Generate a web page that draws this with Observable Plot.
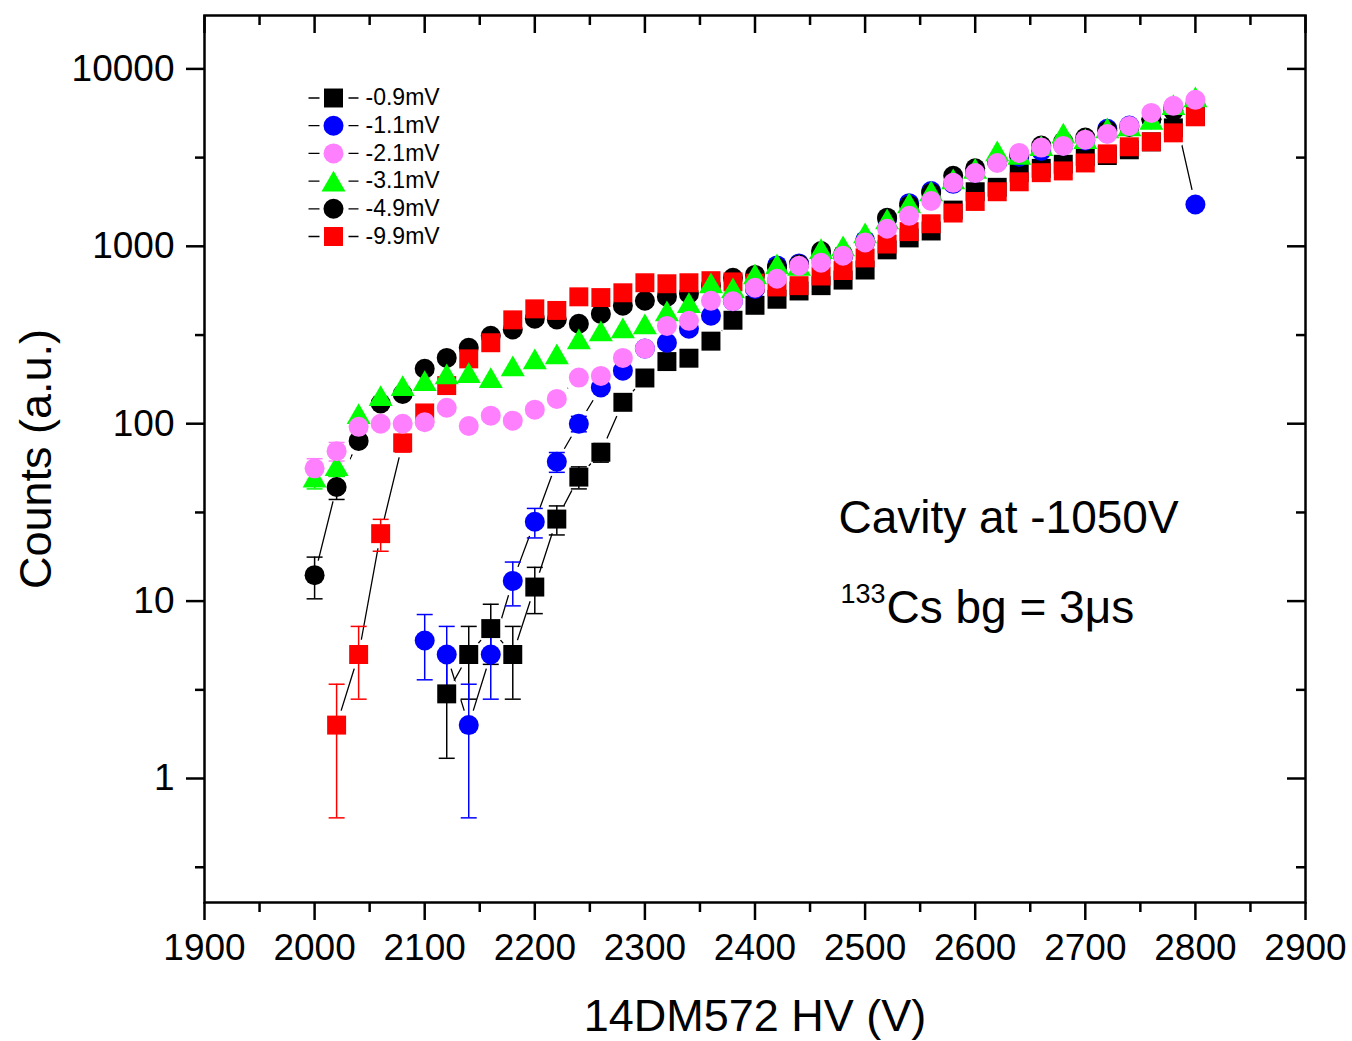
<!DOCTYPE html>
<html><head><meta charset="utf-8">
<script src="https://cdn.jsdelivr.net/npm/d3@7"></script>
<script src="https://cdn.jsdelivr.net/npm/@observablehq/plot@0.6"></script>
<style>body{margin:0;background:#fff;} svg{display:block}</style>
</head><body><div id="chart"></div>
<script>
// ---------------- data ----------------
const hv = [2000,2020,2040,2060,2080,2100,2120,2140,2160,2180,2200,2220,2240,2260,2280,2300,2320,2340,2360,2380,
            2400,2420,2440,2460,2480,2500,2520,2540,2560,2580,2600,2620,2640,2660,2680,2700,2720,2740,2760,2780,2800];

const seriesNames = ["-0.9mV","-1.1mV","-2.1mV","-3.1mV","-4.9mV","-9.9mV"];

const counts09 = [null,null,null,null,null,null,3,5,7,5,12,29,50,69,132,181,224,234,292,383,
                  465,503,560,600,645,735,955,1115,1220,1600,2030,2150,2600,2750,2900,3200,3250,3500,3880,4650,5400];
const counts11 = [null,null,null,null,null,6,5,2,5,13,28,61,100,160,199,265,286,343,406,490,
                  575,780,800,870,880,1080,1430,1750,2050,2250,2600,3000,3200,3450,3700,3950,4600,4800,5200,6050,1720];
const counts21 = [56,70,96,100,100,102,123,97,111,104,120,138,182,186,235,265,356,380,493,490,
                  584,656,777,808,885,1050,1255,1485,1800,2280,2590,2950,3360,3600,3680,3990,4300,4770,5650,6190,6690];
const counts31 = [50,58,114,144,164,175,191,194,182,212,232,248,301,334,347,366,433,481,623,584,
                  700,796,780,970,1007,1190,1430,1760,2055,2400,2750,3450,3300,3700,4350,4050,4650,4770,5200,6300,6950];
const counts49 = [14,44,80,130,147,204,235,268,313,340,391,387,366,416,462,493,520,540,600,664,
                  690,760,790,940,900,1050,1450,1700,2000,2500,2750,3000,3300,3700,3900,4100,4500,4700,5200,5800,6300];
const counts99 = [null,2,5,24,78,115,164,232,286,385,444,435,519,514,547,623,615,623,640,630,
                  620,590,600,680,730,860,1030,1210,1340,1540,1790,2030,2310,2600,2660,2950,3320,3640,3880,4360,5370];

// error bars (visible ones only)
const err09 = [null,null,null,null,null,null,1.7,2.2,2.6,2.2,3.5,5.4,7.1,8.3];
const err11 = [null,null,null,null,null,2.4,2.2,1.4,2.2,3.6,5.3,7.8,10];
const err21 = [7.5,8.4];
const err31 = [7.1,7.6];
const err49 = [3.7,6.6];
const err99 = [null,1.4,2.2,4.9,8.8];

const xTicks = [1900,2000,2100,2200,2300,2400,2500,2600,2700,2800,2900];
const xMinorTicks = [1950,2050,2150,2250,2350,2450,2550,2650,2750,2850];
const yTicks = [1,10,100,1000,10000];
const yMinorTicks = [0.316,3.16,31.6,316,3162];

const xLabel = "14DM572 HV (V)";
const yLabel = "Counts (a.u.)";
const note1 = "Cavity at -1050V";
const note2sup = "133";
const note2 = "Cs bg = 3\u03BCs";

// ---------------- styles ----------------
const seriesValues = [counts09, counts11, counts21, counts31, counts49, counts99];
const seriesErrors = [err09, err11, err21, err31, err49, err99];
const seriesSymbols = ["square","circle","circle","triangle","circle","square"];
const seriesColors = ["#000000","#0000FF","#FF80FF","#00FF00","#000000","#FF0000"];
const drawOrder = [0,1,4,5,3,2];

const W = 1352, H = 1041, mL = 204, mR = 47, mT = 15, mB = 139;
const plotW = W - mL - mR, plotH = H - mT - mB;

function symR(sym){ return sym === "square" ? 10.7 : sym === "triangle" ? 8.9 : 10; }
function symDy(sym){ return sym === "triangle" ? 3.5 : 0; }

const capSymbol = {draw(ctx){ ctx.moveTo(-8,0); ctx.lineTo(8,0); }};
const legendLineSymbol = {draw(ctx){ ctx.moveTo(-25,0); ctx.lineTo(-14,0); ctx.moveTo(15,0); ctx.lineTo(25,0); }};

const rowsBySeries = seriesValues.map((vals, s) =>
  hv.map((x, i) => ({x, y: vals[i], e: seriesErrors[s][i] ?? null, s})).filter(d => d.y != null));
const allRows = rowsBySeries.flat();

const marks = [];
// connecting lines
for (const s of drawOrder) {
  marks.push(Plot.line(rowsBySeries[s], {x: "x", y: "y", stroke: "black", strokeWidth: 1.3}));
}
// white gaps around symbols (Origin "line with gap")
marks.push(Plot.dot(allRows, {x: "x", y: "y", r: 15, fill: "white", stroke: null}));
// error bars
for (const s of drawOrder) {
  const er = rowsBySeries[s].filter(d => d.e != null);
  if (!er.length) continue;
  const c = seriesColors[s];
  marks.push(Plot.ruleX(er, {x: "x", y1: d => d.y - d.e, y2: d => d.y + d.e, stroke: c, strokeWidth: 1.5}));
  marks.push(Plot.dot(er, {x: "x", y: d => d.y + d.e, symbol: capSymbol, r: 5, fill: "none", stroke: c, strokeWidth: 1.5}));
  marks.push(Plot.dot(er, {x: "x", y: d => d.y - d.e, symbol: capSymbol, r: 5, fill: "none", stroke: c, strokeWidth: 1.5}));
}
// symbols
for (const s of drawOrder) {
  const sym = seriesSymbols[s];
  marks.push(Plot.dot(rowsBySeries[s], {x: "x", y: "y", symbol: sym, r: symR(sym), dy: symDy(sym),
    fill: seriesColors[s], stroke: null}));
}
// legend
seriesNames.forEach((name, i) => {
  const dy = 97.5 + 27.7 * i - mT;
  const sym = seriesSymbols[i];
  marks.push(Plot.dot([name], {frameAnchor: "top-left", dx: 333 - mL, dy, symbol: legendLineSymbol, r: 5,
    fill: "none", stroke: "black", strokeWidth: 1.3}));
  marks.push(Plot.dot([name], {frameAnchor: "top-left", dx: 333 - mL, dy: dy + symDy(sym), symbol: sym,
    r: symR(sym), fill: seriesColors[i], stroke: null}));
  marks.push(Plot.text([name], {frameAnchor: "top-left", dx: 365 - mL, dy, text: d => d, textAnchor: "start",
    lineAnchor: "middle", fontSize: 23, fill: "black"}));
});
// annotations
marks.push(Plot.text([note1], {frameAnchor: "top-left", dx: 838 - mL, dy: 518 - mT, text: d => d,
  textAnchor: "start", lineAnchor: "middle", fontSize: 46, fill: "black"}));
marks.push(Plot.text([note2sup], {frameAnchor: "top-left", dx: 840 - mL, dy: 594 - mT, text: d => d,
  textAnchor: "start", lineAnchor: "middle", fontSize: 27, fill: "black"}));
marks.push(Plot.text([note2], {frameAnchor: "top-left", dx: 886 - mL, dy: 608 - mT, text: d => d,
  textAnchor: "start", lineAnchor: "middle", fontSize: 46, fill: "black"}));
// axes
marks.push(Plot.axisX({ticks: xTicks, anchor: "bottom", tickSize: 18, tickPadding: 13, fontSize: 37,
  strokeWidth: 2.5, tickFormat: d => String(d), label: null}));
marks.push(Plot.axisX({ticks: xMinorTicks, anchor: "bottom", tickSize: 10, strokeWidth: 2.5,
  tickFormat: () => "", label: null}));
marks.push(Plot.axisY({ticks: yTicks, anchor: "left", tickSize: 18, tickPadding: 12, fontSize: 37,
  strokeWidth: 2.5, tickFormat: d => String(d), label: null}));
marks.push(Plot.axisY({ticks: yMinorTicks, anchor: "left", tickSize: 9, strokeWidth: 2.5,
  tickFormat: () => "", label: null}));
// mirror ticks (inward) on top and right
marks.push(Plot.tickX(xTicks, {x: d => d, insetBottom: plotH - 18, stroke: "black", strokeWidth: 2.5}));
marks.push(Plot.tickX(xMinorTicks, {x: d => d, insetBottom: plotH - 10, stroke: "black", strokeWidth: 2.5}));
marks.push(Plot.tickY(yTicks, {y: d => d, insetLeft: plotW - 18, stroke: "black", strokeWidth: 2.5}));
marks.push(Plot.tickY(yMinorTicks, {y: d => d, insetLeft: plotW - 9, stroke: "black", strokeWidth: 2.5}));
// axis titles
marks.push(Plot.text([xLabel], {frameAnchor: "bottom", dy: 114, text: d => d, lineAnchor: "middle",
  textAnchor: "middle", fontSize: 45, fill: "black"}));
marks.push(Plot.text([yLabel], {frameAnchor: "left", dx: 36 - mL, rotate: -90, text: d => d, lineAnchor: "middle",
  textAnchor: "middle", fontSize: 45, fill: "black"}));
marks.push(Plot.frame({stroke: "black", strokeWidth: 2.5}));

const chart = Plot.plot({
  width: W, height: H,
  marginLeft: mL, marginRight: mR, marginTop: mT, marginBottom: mB,
  x: {domain: [1900, 2900], label: null},
  y: {type: "log", domain: [0.2, 20000], label: null},
  style: {fontFamily: "'Liberation Sans', Arial, sans-serif", background: "white", overflow: "visible"},
  marks
});
document.getElementById("chart").appendChild(chart);
</script>
</body></html>
